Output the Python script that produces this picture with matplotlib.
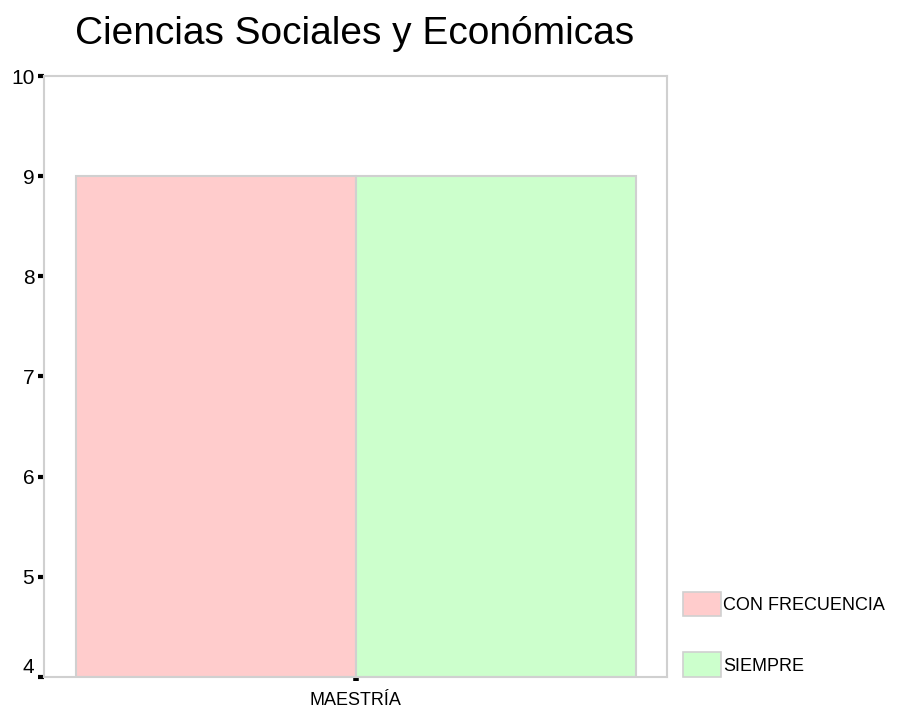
import numpy as np
import matplotlib.pyplot as plt
from matplotlib.patches import Patch

plt.rcParams['font.family'] = ['Liberation Sans', 'DejaVu Sans']

TITLE = "Ciencias Sociales y Económicas"
CATEGORIES = ["MAESTRÍA"]
SERIES = ["CON FRECUENCIA", "SIEMPRE"]
VALUES = [[9], [9]]  # por serie
COLORS = ["#ffcccc", "#ccffcc"]
EDGE = "#d0d0d0"

fig = plt.figure(figsize=(9.02, 7.11), dpi=100)
# area del grafico en pixeles: x 44..667, y 76..677
ax = fig.add_axes([44 / 902, 1 - 677 / 711, 623 / 902, 601 / 711])

x = np.arange(len(CATEGORIES))
w = 280 / 623
for i, (name, vals) in enumerate(zip(SERIES, VALUES)):
    off = (i - (len(SERIES) - 1) / 2) * w
    ax.bar(x + off, np.array(vals) - 4, width=w, bottom=4, color=COLORS[i],
           edgecolor=EDGE, linewidth=1.5, label=name)

ax.set_xlim(-0.5, 0.5)
ax.set_ylim(4, 10)
ax.set_yticks(range(4, 11))
ax.set_xticks(x)
ax.set_xticklabels(CATEGORIES, fontsize=13)

for s in ax.spines.values():
    s.set_color(EDGE)
    s.set_linewidth(1.5)

ax.tick_params(axis='y', direction='out', length=4, width=3, color='black',
               labelsize=15, pad=3)
ax.tick_params(axis='x', direction='out', length=3, width=4, color='black',
               labelsize=13, pad=8)
# el 4 de abajo va un poco mas arriba
ax.get_yticklabels()[0].set_va('bottom')

fig.text(355 / 902, 1 - 34 / 711, TITLE, ha='center', va='center', fontsize=28)

handles = [Patch(facecolor=c, edgecolor=EDGE, linewidth=1.2) for c in COLORS]
fig.legend(handles, SERIES, loc='upper left', bbox_to_anchor=(683 / 902, 1 - 592 / 711),
           frameon=False, fontsize=13, handlelength=2.1, handleheight=1.7,
           handletextpad=0.1, labelspacing=2.0, borderpad=0, borderaxespad=0)

fig.savefig("out.png", dpi=100)
